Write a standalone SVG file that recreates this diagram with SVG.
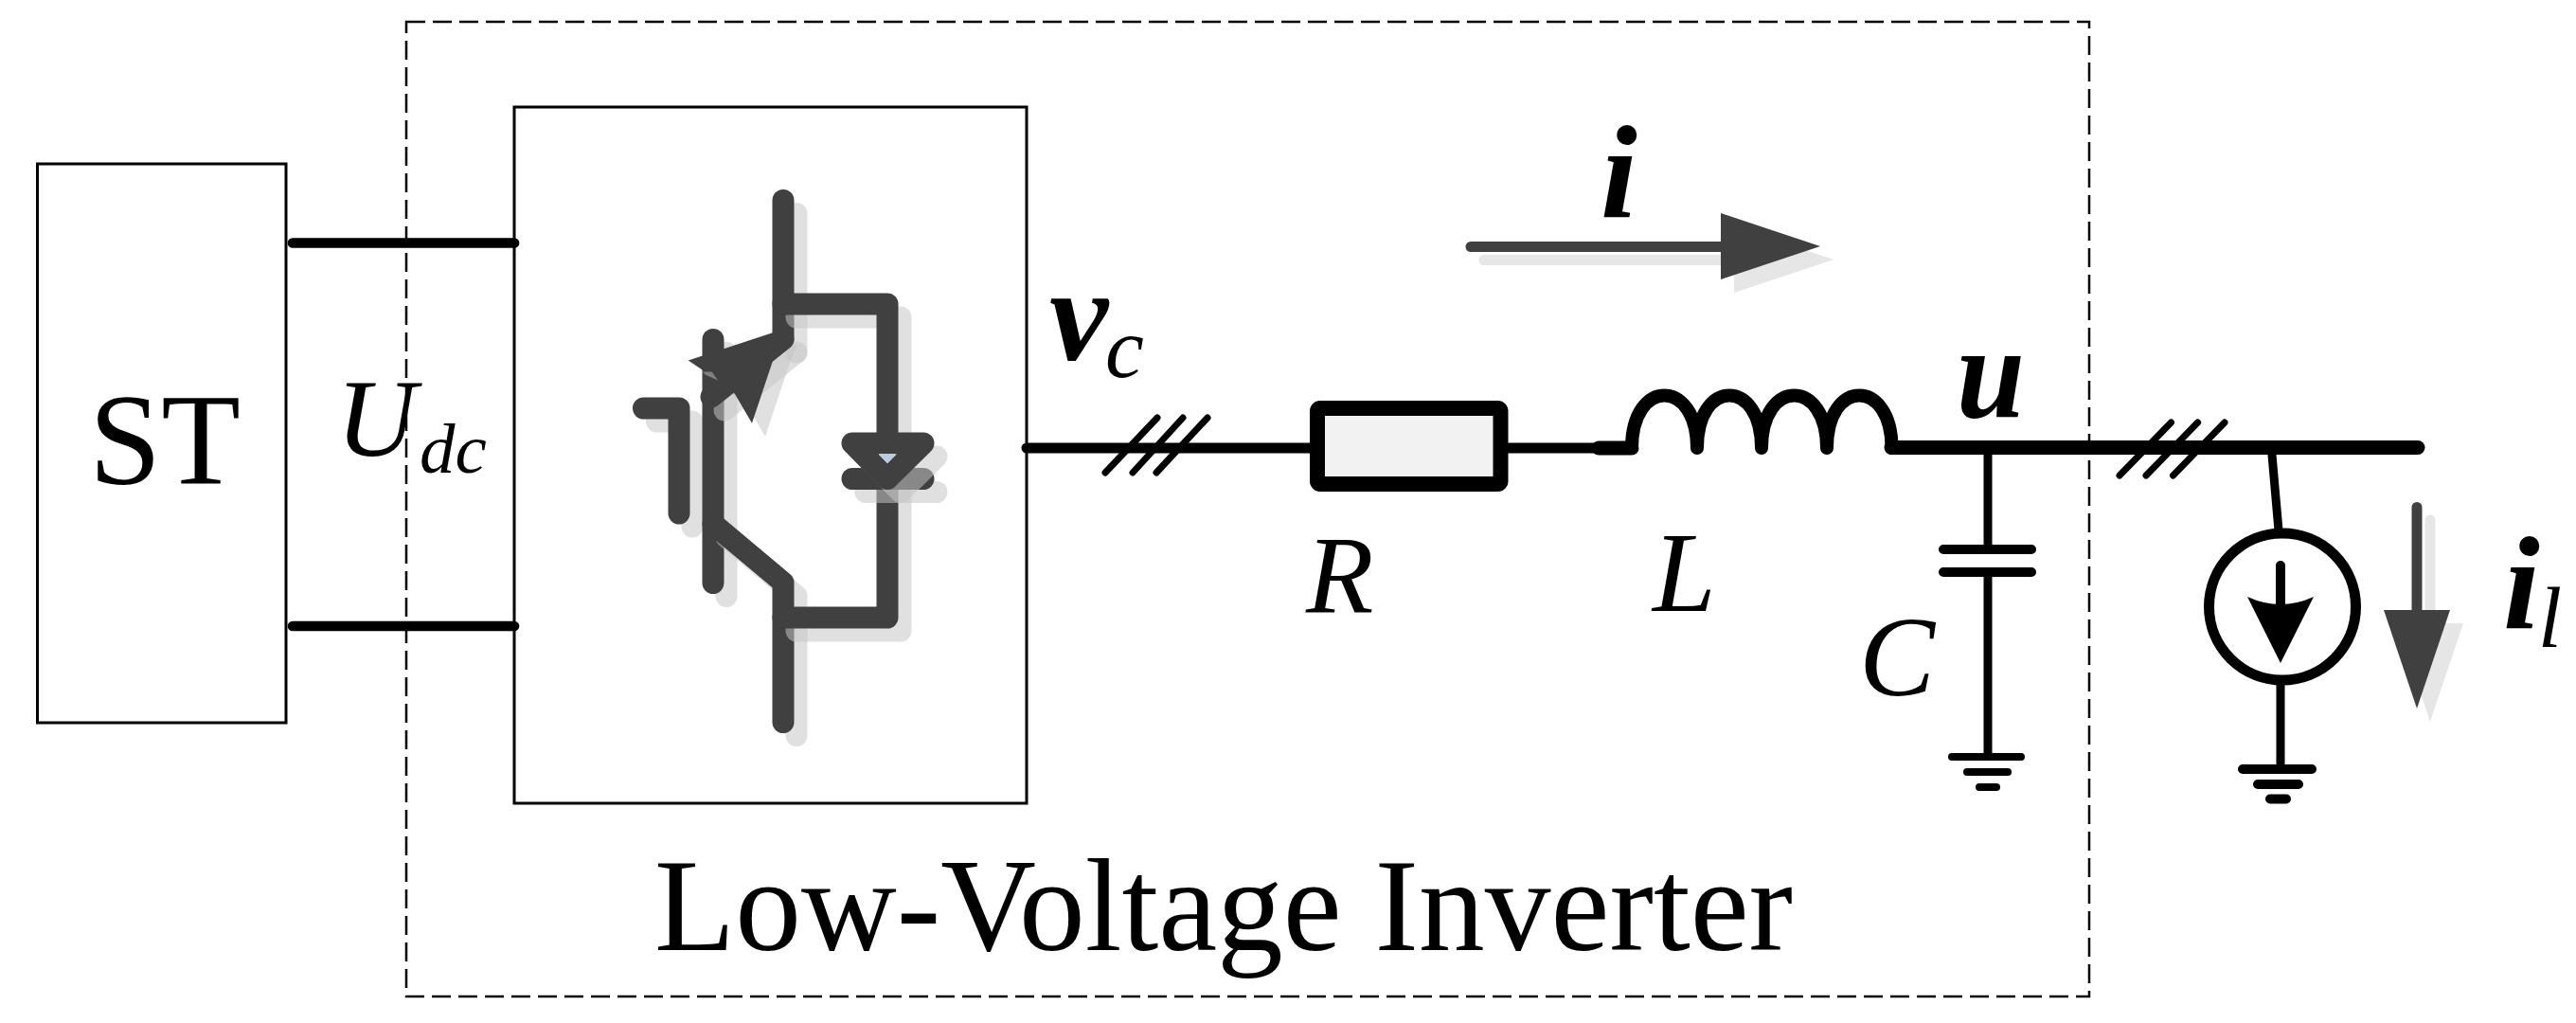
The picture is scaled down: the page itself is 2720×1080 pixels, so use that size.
<svg xmlns="http://www.w3.org/2000/svg" width="2720" height="1080" viewBox="0 0 2720 1080">
<defs><style>
.box{fill:none;stroke:#000;stroke-width:3}
.dash{fill:none;stroke:#000;stroke-width:2.5;stroke-dasharray:20 8}
.w{fill:none;stroke:#000;stroke-linecap:round;stroke-linejoin:round}
.d{fill:none;stroke:#404040;stroke-width:23;stroke-linecap:round;stroke-linejoin:round}
.s{fill:none;stroke:#c6c6c6;stroke-opacity:.54;stroke-width:23;stroke-linecap:round;stroke-linejoin:round}
.t{font-family:"Liberation Serif","Times New Roman",serif;fill:#000}
.bi{font-weight:bold;font-style:italic}
.it{font-style:italic}
</style>
<g id="gate"><path d="M679.5,431H717V542"/></g>
<g id="barp"><path d="M753,358.5V615.5"/></g>
<g id="coltop"><path d="M827,211.5V358"/></g>
<g id="emit"><path d="M827,358L751,419"/></g>
<g id="toph"><path d="M827,321H937V468"/></g>
<g id="botv"><path d="M753,553L827,615V762.5"/></g>
<g id="both"><path d="M827,652H937V505"/></g>
<g id="dbar"><path d="M900,505.5H975"/></g>
<g id="dtri"><path d="M900,468H975L937,505.5Z"/></g>
<polygon id="ahead" points="726.7,380.6 815,351.6 828,349.6 820,369 794,446.7 776,416 758,401.4"/>
</defs>
<g id="st-box"><rect class="box" x="39.5" y="173" width="262.5" height="590"/><text class="t" x="94" y="511" font-size="137">ST</text></g>
<g id="inverter-boundary"><rect class="dash" x="429" y="23" width="1777" height="1029"/><text class="t" x="691" y="1003" font-size="140" textLength="1202" lengthAdjust="spacingAndGlyphs">Low-Voltage Inverter</text></g>
<g id="connectors">
<path class="w" stroke-width="10.7" d="M309,256.5H543M309,661H543"/>
<path class="w" stroke-width="11" d="M1084,473H1688"/>
<path class="w" stroke-width="7" d="M1167,499L1222,441M1196,499L1249,441M1221,499L1275,441"/>
<path class="w" stroke-width="15" d="M1688,473H1723"/>
<path class="w" stroke-width="15" d="M1997,472.5H2553"/>
<path class="w" stroke-width="7" d="M2238,502L2292.5,446M2266,502L2320.6,446M2294.5,502L2349,446"/>
<path class="w" stroke-width="9" d="M2099,480V580M2099,604V798M2399,480L2406,560M2408,723V811"/>
</g>
<g id="inverter-box"><rect class="box" x="543" y="113" width="541" height="735"/></g>
<g id="igbt">
<use href="#ahead" fill="#c6c6c6" fill-opacity=".54" transform="translate(14,14)"/>
<use href="#gate" class="s" transform="translate(14,14)"/><use href="#gate" class="d"/>
<use href="#barp" class="s" transform="translate(14,14)"/><use href="#barp" class="d"/>
<use href="#coltop" class="s" transform="translate(14,14)"/><use href="#coltop" class="d"/>
<use href="#emit" class="s" transform="translate(14,14)"/><use href="#emit" class="d"/>
<use href="#ahead" fill="#404040"/>
<polygon points="741.7,392.4 751.7,392.4 758,401.4 745,395.7" fill="#808080"/>
<use href="#botv" class="s" transform="translate(14,14)"/><use href="#botv" class="d"/>
<use href="#toph" class="s" transform="translate(14,14)"/><use href="#toph" class="d"/>
<use href="#both" class="s" transform="translate(14,14)"/><use href="#both" class="d"/>
<use href="#dbar" class="s" transform="translate(14,14)"/><use href="#dbar" class="d"/>
<use href="#dtri" class="s" transform="translate(14,14)"/><use href="#dtri" class="d"/>
<polygon points="928,479 946,479 937,489" fill="#b8cce4"/>
</g>
<g id="resistor"><rect x="1391" y="431" width="193.5" height="80" rx="3" fill="#f2f2f2" stroke="#000" stroke-width="16" stroke-linejoin="round"/><text class="t it" x="1379" y="647" font-size="117">R</text></g>
<g id="inductor"><path class="w" stroke-width="14" d="M1723,473C1723,399 1792,399 1792,473C1792,399 1860,399 1860,473C1860,399 1929,399 1929,473C1929,399 1997.5,399 1997.5,473"/><text class="t it" x="1745" y="645" font-size="120">L</text></g>
<g id="capacitor"><path class="w" stroke-width="10" d="M2052,580H2145M2052,604H2145"/><path class="w" stroke-width="8" d="M2061,799H2134"/><path class="w" stroke-width="8" d="M2077,815H2120"/><path class="w" stroke-width="8" d="M2090,831H2108"/><text class="t it" x="1963" y="734" font-size="120">C</text></g>
<g id="load"><circle cx="2410" cy="640.5" r="77.5" fill="#fff" stroke="#000" stroke-width="11"/><path class="w" stroke-width="10" d="M2408,597V650"/><path d="M2373,630Q2408,646 2443,630L2408,700Z" fill="#000"/><path class="w" stroke-width="10" d="M2368,812H2441M2384,828H2427M2397,843.5H2414"/></g>
<g id="arrow-i"><path d="M1567,274.5H1835" stroke="#e6e6e6" stroke-width="11" stroke-linecap="round"/><polygon points="1831,239 1936,274 1831,309" fill="#e6e6e6"/><path d="M1553,260.5H1825" stroke="#404040" stroke-width="11" stroke-linecap="round"/><polygon points="1817,225 1922,260 1817,295" fill="#404040"/></g>
<g id="arrow-il"><path d="M2566,549V660" stroke="#e6e6e6" stroke-width="11" stroke-linecap="round"/><polygon points="2531,658 2601,658 2566,762" fill="#e6e6e6"/><path d="M2552,535.5V650" stroke="#404040" stroke-width="11" stroke-linecap="round"/><polygon points="2517,644 2587,644 2552,748" fill="#404040"/></g>
<g id="labels">
<text class="t bi" x="1690" y="229" font-size="140">i</text>
<text class="t bi" x="1108" y="380" font-size="140">v</text><text class="t it" x="1167" y="398" font-size="92">c</text>
<text class="t bi" x="2066" y="440" font-size="140" textLength="72" lengthAdjust="spacingAndGlyphs">u</text>
<text class="t bi" x="2643" y="663" font-size="140">i</text><text class="t it" x="2680" y="683" font-size="90">l</text>
<text class="t it" x="355" y="481" font-size="117">U</text><text class="t it" x="443" y="499" font-size="75">dc</text>
</g>
</svg>
